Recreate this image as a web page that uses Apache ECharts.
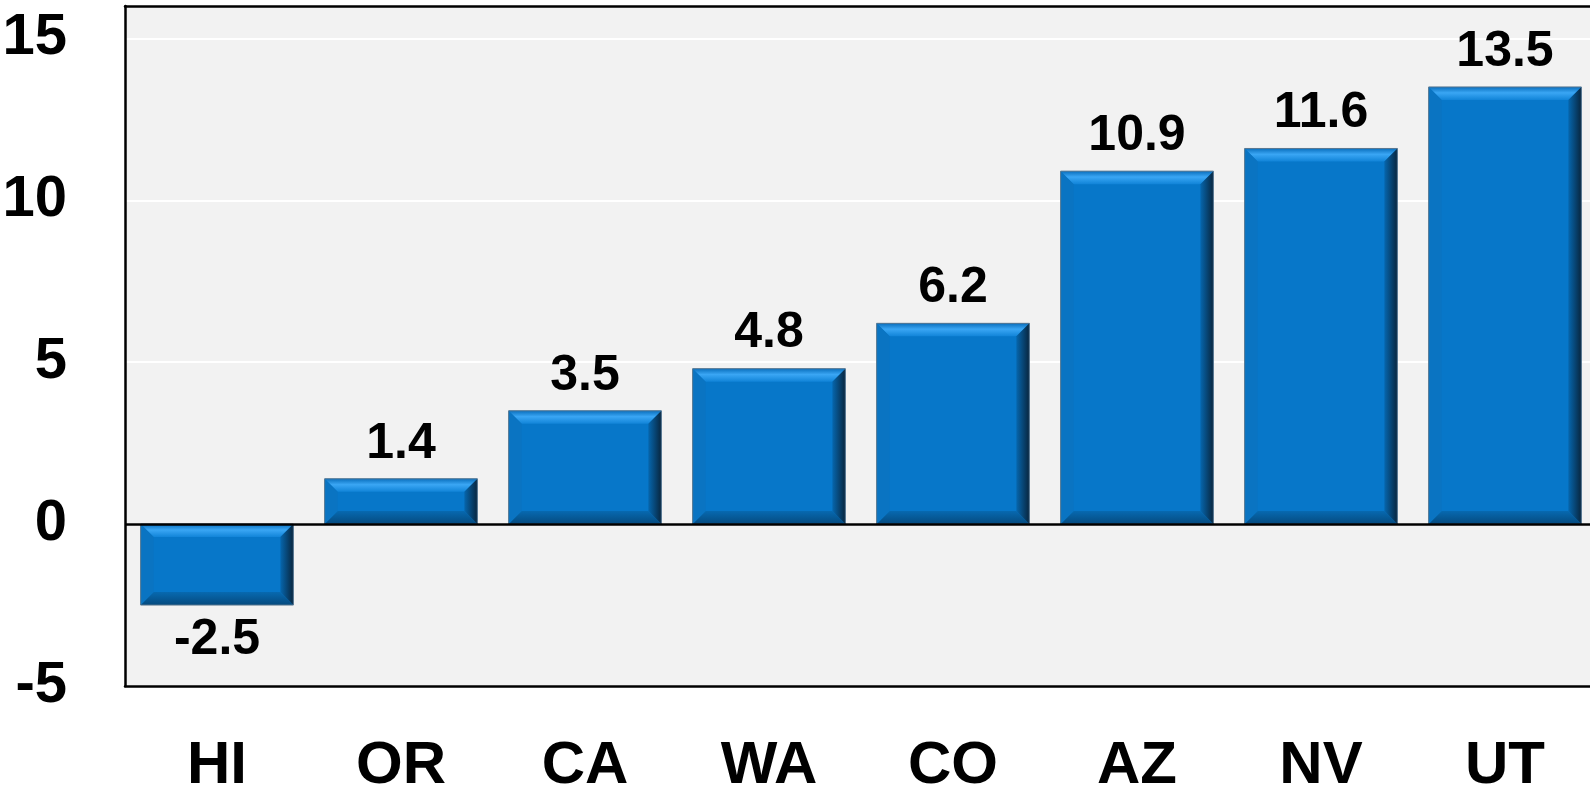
<!DOCTYPE html>
<html>
<head>
<meta charset="utf-8">
<script src="https://cdn.jsdelivr.net/npm/echarts@6/dist/echarts.min.js"></script>
<style>
  html, body { margin: 0; padding: 0; background: #fff; }
  #main { width: 1590px; height: 788px; }
</style>
</head>
<body>
<div id="main"></div>
<script>
// states and their values
var states = ['HI', 'OR', 'CA', 'WA', 'CO', 'AZ', 'NV', 'UT'];
var values = [-2.5, 1.4, 3.5, 4.8, 6.2, 10.9, 11.6, 13.5];
var yTicks = [-5, 0, 5, 10, 15];

var FONT = "'Liberation Sans Narrow', 'Arial Narrow', 'Liberation Sans', Arial, sans-serif";
var BAR_RATIO = 0.83;

var chart = echarts.init(document.getElementById('main'));

// bars with per-point label position (below for negatives)
var barData = values.map(function (v) {
  return {
    value: v,
    label: { position: v < 0 ? 'bottom' : 'top' }
  };
});

// bevel edges drawn on top of each bar
function renderBevel(params, api) {
  var base = api.coord([api.value(0), 0]);
  var top = api.coord([api.value(0), api.value(1)]);
  var w = api.size([1, 0])[0] * BAR_RATIO;
  var l = base[0] - w / 2;
  var r = base[0] + w / 2;
  var y0 = Math.min(base[1], top[1]);
  var y1 = Math.max(base[1], top[1]);
  var b = Math.min(13, (y1 - y0) / 2);
  return {
    type: 'group',
    children: [
      {
        type: 'polygon',
        shape: { points: [[l, y0], [r, y0], [r - b, y0 + b], [l + b, y0 + b]] },
        style: {
          fill: new echarts.graphic.LinearGradient(0, 0, 0, 1, [
            { offset: 0, color: '#0a6fbd' },
            { offset: 0.45, color: '#3aa6f4' },
            { offset: 1, color: '#1184d8' }
          ])
        }
      },
      {
        type: 'polygon',
        shape: { points: [[l, y1], [r, y1], [r - b, y1 - b], [l + b, y1 - b]] },
        style: {
          fill: new echarts.graphic.LinearGradient(0, 0, 0, 1, [
            { offset: 0, color: '#0769b0' },
            { offset: 1, color: '#054a7e' }
          ])
        }
      },
      {
        type: 'polygon',
        shape: { points: [[r, y0], [r, y1], [r - b, y1 - b], [r - b, y0 + b]] },
        style: {
          fill: new echarts.graphic.LinearGradient(0, 0, 1, 0, [
            { offset: 0, color: '#0666ad' },
            { offset: 1, color: '#08263f' }
          ])
        }
      },
      {
        type: 'polygon',
        shape: { points: [[l, y0], [l, y1], [l + b, y1 - b], [l + b, y0 + b]] },
        style: { fill: '#0a74c2' }
      },
      {
        type: 'rect',
        shape: { x: l, y: y0, width: w, height: y1 - y0 },
        style: { fill: 'none', stroke: '#5a7891', lineWidth: 1 }
      }
    ]
  };
}

var option = {
  backgroundColor: '#ffffff',
  animation: false,
  grid: {
    left: 125,
    right: -7,
    top: 6,
    bottom: 102,
    show: true,
    backgroundColor: '#f2f2f2',
    borderWidth: 0,
    outerBoundsMode: 'none'
  },
  xAxis: [
    {
      type: 'category',
      data: states,
      axisLine: { show: true, onZero: false, lineStyle: { color: '#000', width: 2.5 } },
      axisTick: { show: false },
      axisLabel: {
        margin: 50,
        color: '#000',
        fontFamily: FONT,
        fontWeight: 'bold',
        fontSize: 60
      },
      splitLine: { show: false }
    },
    {
      type: 'category',
      data: states,
      position: 'top',
      axisLine: { show: true, onZero: false, lineStyle: { color: '#000', width: 2.5 } },
      axisTick: { show: false },
      axisLabel: { show: false },
      splitLine: { show: false }
    }
  ],
  yAxis: {
    type: 'value',
    min: -5,
    max: 16,
    interval: 5,
    axisLine: { show: true, onZero: false, lineStyle: { color: '#000', width: 2.5 } },
    axisTick: { show: false },
    axisLabel: {
      margin: 58,
      color: '#000',
      fontFamily: FONT,
      fontWeight: 'bold',
      fontSize: 58,
      showMaxLabel: false,
      formatter: function (v) {
        return yTicks.indexOf(v) >= 0 ? String(v) : '';
      }
    },
    splitLine: { show: true, lineStyle: { color: '#ffffff', width: 2 } }
  },
  series: [
    {
      type: 'bar',
      data: barData,
      barWidth: (BAR_RATIO * 100) + '%',
      itemStyle: { color: '#0777c9' },
      label: {
        show: true,
        distance: 10,
        color: '#000',
        fontFamily: FONT,
        fontWeight: 'bold',
        fontSize: 50,
        formatter: function (p) { return p.value.toFixed(1); }
      },
      markLine: {
        silent: true,
        symbol: 'none',
        label: { show: false },
        lineStyle: { color: '#000', width: 2.5, type: 'solid' },
        data: [{ yAxis: 0 }]
      },
      z: 2
    },
    {
      type: 'custom',
      data: values.map(function (v, i) { return [i, v]; }),
      renderItem: renderBevel,
      silent: true,
      z: 3
    }
  ]
};

chart.setOption(option);
</script>
</body>
</html>
